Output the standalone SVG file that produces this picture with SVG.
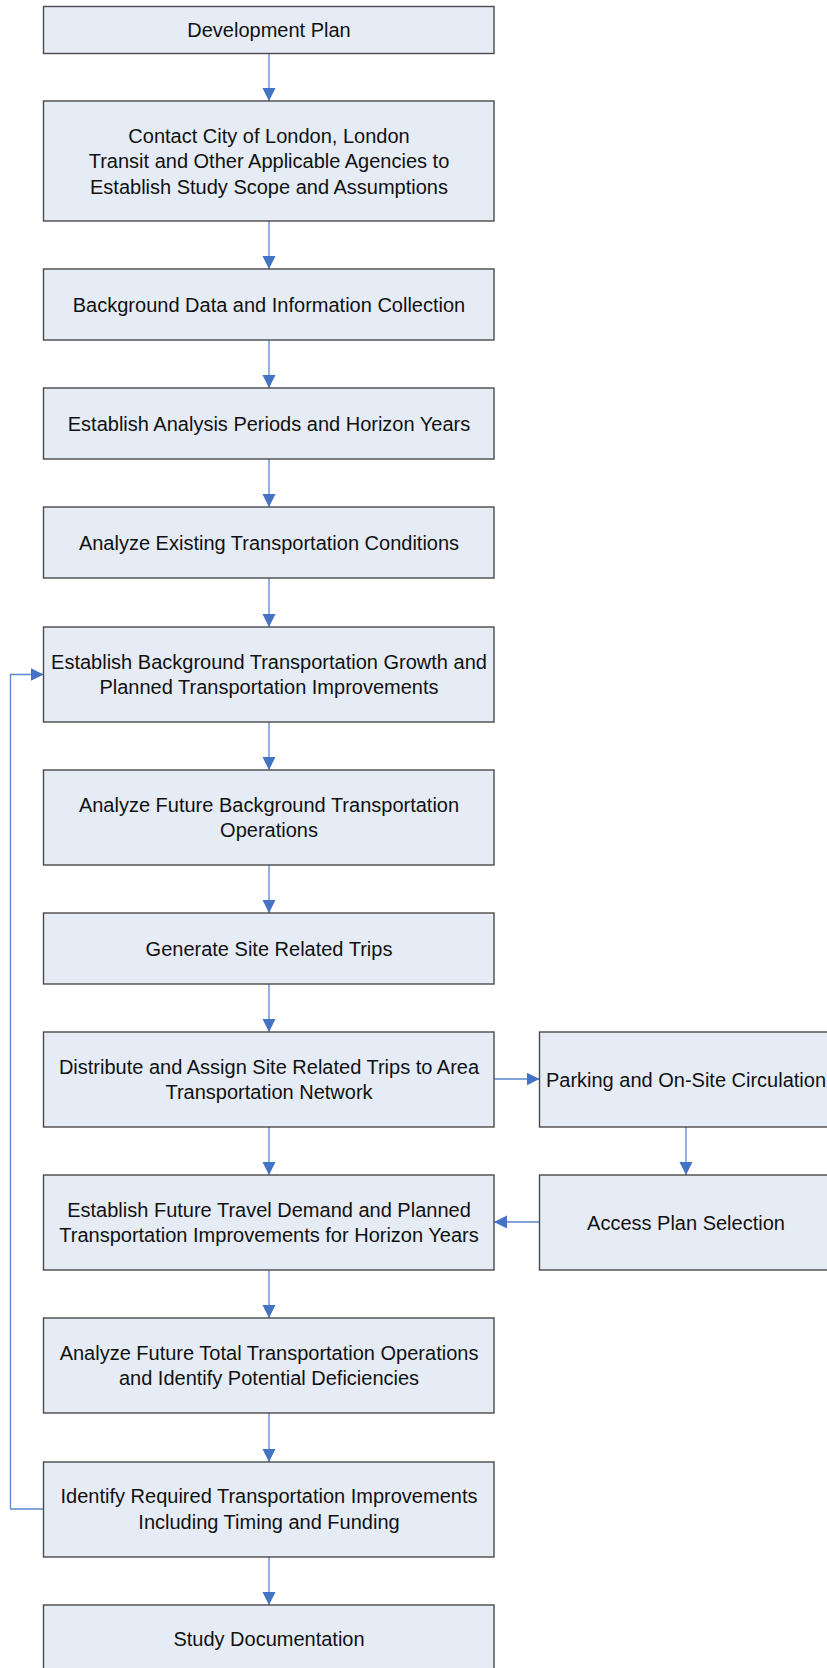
<svg xmlns="http://www.w3.org/2000/svg" width="827" height="1668" viewBox="0 0 827 1668">
  <style>
    .box { fill: #E6ECF6; stroke: #4A4A4A; stroke-width: 1.4; }
    .lbl { font-family: "Liberation Sans", Arial, sans-serif; font-size: 20px; fill: #111111; text-anchor: middle; }
    .wire { fill: none; stroke: #5B86CC; stroke-width: 1.3; }
  </style>
  <defs>
    <marker id="arrow" markerUnits="userSpaceOnUse" markerWidth="14" markerHeight="14" refX="13" refY="6.5" orient="auto">
      <path d="M0,0 L13,6.5 L0,13 Z" fill="#4472C4"/>
    </marker>
  </defs>

  <!-- connectors -->
  <g id="connectors">
    <line class="wire" x1="269" y1="54" x2="269" y2="101" marker-end="url(#arrow)"/>
    <line class="wire" x1="269" y1="221" x2="269" y2="269" marker-end="url(#arrow)"/>
    <line class="wire" x1="269" y1="340" x2="269" y2="388" marker-end="url(#arrow)"/>
    <line class="wire" x1="269" y1="459" x2="269" y2="507" marker-end="url(#arrow)"/>
    <line class="wire" x1="269" y1="578" x2="269" y2="627" marker-end="url(#arrow)"/>
    <line class="wire" x1="269" y1="722" x2="269" y2="770" marker-end="url(#arrow)"/>
    <line class="wire" x1="269" y1="865" x2="269" y2="913" marker-end="url(#arrow)"/>
    <line class="wire" x1="269" y1="984" x2="269" y2="1032" marker-end="url(#arrow)"/>
    <line class="wire" x1="269" y1="1127" x2="269" y2="1175" marker-end="url(#arrow)"/>
    <line class="wire" x1="269" y1="1270" x2="269" y2="1318" marker-end="url(#arrow)"/>
    <line class="wire" x1="269" y1="1413" x2="269" y2="1462" marker-end="url(#arrow)"/>
    <line class="wire" x1="269" y1="1557" x2="269" y2="1605" marker-end="url(#arrow)"/>
    <!-- side branch -->
    <line class="wire" x1="494" y1="1079" x2="539.5" y2="1079" marker-end="url(#arrow)"/>
    <line class="wire" x1="686" y1="1127" x2="686" y2="1175" marker-end="url(#arrow)"/>
    <line class="wire" x1="539.5" y1="1222" x2="494" y2="1222" marker-end="url(#arrow)"/>
    <!-- feedback loop -->
    <polyline class="wire" points="43.5,1509 10.5,1509 10.5,674.5 43.5,674.5" marker-end="url(#arrow)"/>
  </g>

  <g id="n-development-plan">
    <rect class="box" x="43.5" y="6.5" width="450.5" height="47"/>
    <text class="lbl" x="269" y="37.2">Development Plan</text>
  </g>

  <g id="n-contact">
    <rect class="box" x="43.5" y="101" width="450.5" height="120"/>
    <text class="lbl" x="269" y="142.7">Contact City of London, London</text>
    <text class="lbl" x="269" y="168.2">Transit and Other Applicable Agencies to</text>
    <text class="lbl" x="269" y="193.7">Establish Study Scope and Assumptions</text>
  </g>

  <g id="n-background-data">
    <rect class="box" x="43.5" y="269" width="450.5" height="71"/>
    <text class="lbl" x="269" y="311.7">Background Data and Information Collection</text>
  </g>

  <g id="n-analysis-periods">
    <rect class="box" x="43.5" y="388" width="450.5" height="71"/>
    <text class="lbl" x="269" y="430.7">Establish Analysis Periods and Horizon Years</text>
  </g>

  <g id="n-existing-conditions">
    <rect class="box" x="43.5" y="507" width="450.5" height="71"/>
    <text class="lbl" x="269" y="549.7">Analyze Existing Transportation Conditions</text>
  </g>

  <g id="n-background-growth">
    <rect class="box" x="43.5" y="627" width="450.5" height="95"/>
    <text class="lbl" x="269" y="668.5">Establish Background Transportation Growth and</text>
    <text class="lbl" x="269" y="694">Planned Transportation Improvements</text>
  </g>

  <g id="n-future-background">
    <rect class="box" x="43.5" y="770" width="450.5" height="95"/>
    <text class="lbl" x="269" y="811.5">Analyze Future Background Transportation</text>
    <text class="lbl" x="269" y="837">Operations</text>
  </g>

  <g id="n-generate-trips">
    <rect class="box" x="43.5" y="913" width="450.5" height="71"/>
    <text class="lbl" x="269" y="955.7">Generate Site Related Trips</text>
  </g>

  <g id="n-distribute-trips">
    <rect class="box" x="43.5" y="1032" width="450.5" height="95"/>
    <text class="lbl" x="269" y="1073.5">Distribute and Assign Site Related Trips to Area</text>
    <text class="lbl" x="269" y="1099">Transportation Network</text>
  </g>

  <g id="n-future-demand">
    <rect class="box" x="43.5" y="1175" width="450.5" height="95"/>
    <text class="lbl" x="269" y="1216.5">Establish Future Travel Demand and Planned</text>
    <text class="lbl" x="269" y="1242">Transportation Improvements for Horizon Years</text>
  </g>

  <g id="n-future-total">
    <rect class="box" x="43.5" y="1318" width="450.5" height="95"/>
    <text class="lbl" x="269" y="1359.5">Analyze Future Total Transportation Operations</text>
    <text class="lbl" x="269" y="1385">and Identify Potential Deficiencies</text>
  </g>

  <g id="n-required-improvements">
    <rect class="box" x="43.5" y="1462" width="450.5" height="95"/>
    <text class="lbl" x="269" y="1503">Identify Required Transportation Improvements</text>
    <text class="lbl" x="269" y="1528.5">Including Timing and Funding</text>
  </g>

  <g id="n-study-documentation">
    <rect class="box" x="43.5" y="1605" width="450.5" height="66"/>
    <text class="lbl" x="269" y="1645.5">Study Documentation</text>
  </g>

  <g id="n-parking">
    <rect class="box" x="539.5" y="1032" width="294" height="95"/>
    <text class="lbl" x="686" y="1086.5">Parking and On-Site Circulation</text>
  </g>

  <g id="n-access-plan">
    <rect class="box" x="539.5" y="1175" width="294" height="95"/>
    <text class="lbl" x="686" y="1229.5">Access Plan Selection</text>
  </g>
</svg>
